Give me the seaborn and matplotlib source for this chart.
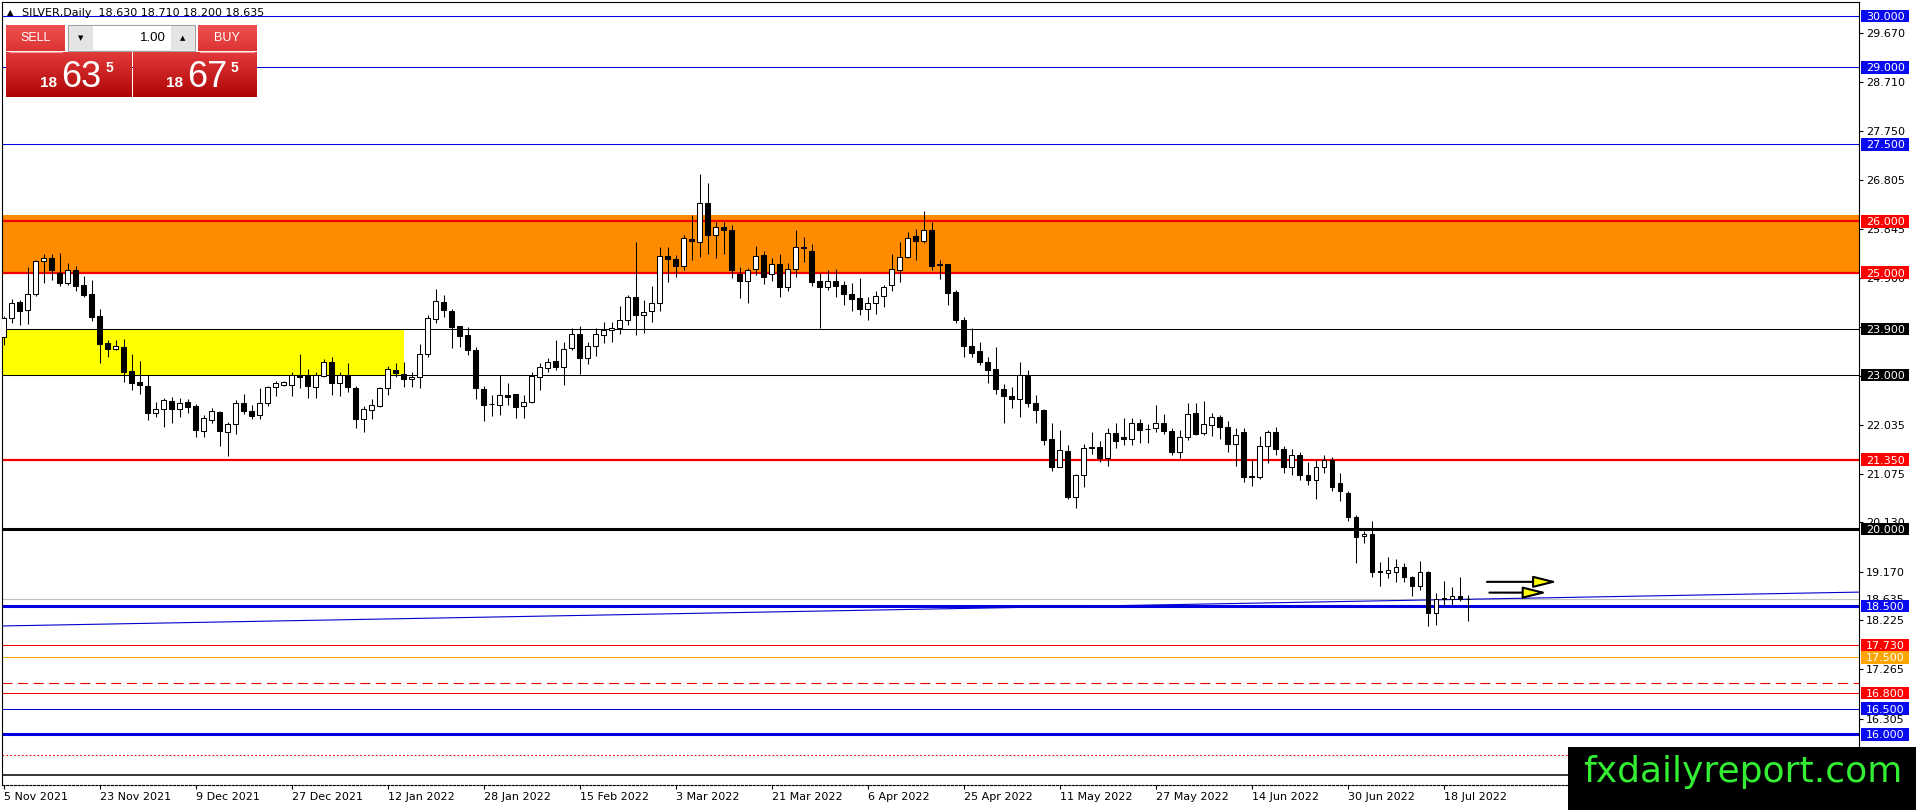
import numpy as np
import pandas as pd
import seaborn as sns
import matplotlib.pyplot as plt
import matplotlib.transforms as mtransforms
from matplotlib.patches import Rectangle
from matplotlib.colors import LinearSegmentedColormap

W, H = 1916, 810

# daily SILVER candles, bar 0 = 5 Nov 2021, last bar = 21 Jul 2022
open_px = [
    23.75, 24.11, 24.43, 24.26, 24.58, 25.22, 25.28, 25.00, 24.79, 25.04,
    24.76, 24.58, 24.15, 23.63, 23.51, 23.55, 23.08, 22.86, 22.79, 22.27,
    22.33, 22.49, 22.33, 22.47, 22.40, 21.92, 22.13, 22.28, 21.89, 22.05,
    22.45, 22.31, 22.23, 22.46, 22.76, 22.81, 22.81, 23.00, 22.98, 22.77,
    22.99, 23.26, 22.84, 23.00, 22.74, 22.14, 22.32, 22.40, 22.74, 23.10,
    23.03, 22.92, 22.96, 23.42, 24.09, 24.42, 24.25, 23.96, 23.78, 23.49,
    22.72, 22.44, 22.41, 22.61, 22.63, 22.39, 22.47, 22.96, 23.13, 23.27,
    23.15, 23.52, 23.80, 23.33, 23.56, 23.79, 23.87, 23.91, 24.07, 24.53,
    24.18, 24.24, 24.40, 25.33, 25.27, 25.13, 25.65, 25.60, 26.35, 25.73,
    25.88, 25.83, 24.98, 24.84, 25.06, 25.34, 24.97, 25.16, 24.72, 25.06,
    25.49, 25.42, 24.83, 24.72, 24.83, 24.75, 24.58, 24.50, 24.29, 24.41,
    24.55, 24.75, 25.05, 25.31, 25.71, 25.62, 25.83, 25.16, 25.16, 24.62,
    24.07, 23.57, 23.47, 23.25, 23.11, 22.73, 22.59, 22.53, 22.98, 22.46,
    22.32, 21.75, 21.21, 21.52, 20.63, 21.06, 21.60, 21.59, 21.38, 21.88,
    21.80, 21.75, 22.06, 21.95, 21.96, 22.06, 21.92, 21.51, 21.79, 22.27,
    21.88, 22.03, 22.18, 21.99, 21.65, 21.89, 21.04, 21.01, 21.62, 21.90,
    21.55, 21.20, 21.45, 21.05, 20.95, 21.20, 21.35, 20.90, 20.70, 20.23,
    19.86, 19.91, 19.18, 19.15, 19.17, 19.25, 19.07, 18.88, 19.16, 18.37,
    18.65, 18.64, 18.70, 18.63,
]
high_px = [
    24.15, 24.48, 24.46, 25.11, 25.24, 25.36, 25.37, 25.39, 25.18, 25.13,
    24.93, 24.85, 24.28, 23.68, 23.68, 23.70, 23.41, 23.27, 23.00, 22.48,
    22.55, 22.58, 22.55, 22.53, 22.44, 22.22, 22.35, 22.31, 22.09, 22.51,
    22.64, 22.42, 22.74, 22.79, 22.89, 22.89, 23.07, 23.41, 23.11, 23.07,
    23.31, 23.36, 23.07, 23.23, 22.79, 22.40, 22.53, 22.77, 23.18, 23.23,
    23.26, 23.07, 23.60, 24.17, 24.67, 24.56, 24.28, 23.96, 23.94, 23.55,
    22.79, 22.61, 23.01, 22.84, 22.64, 22.61, 23.07, 23.23, 23.33, 23.69,
    23.65, 23.91, 23.96, 23.65, 23.91, 24.04, 24.04, 24.35, 24.56, 25.60,
    24.46, 24.74, 25.50, 25.49, 25.34, 25.73, 26.12, 26.92, 26.75, 25.99,
    25.99, 25.93, 25.10, 25.08, 25.52, 25.41, 25.28, 25.36, 25.19, 25.83,
    25.70, 25.56, 25.00, 25.05, 25.06, 24.84, 24.80, 24.90, 24.53, 24.63,
    24.76, 25.36, 25.59, 25.79, 25.84, 26.20, 25.98, 25.24, 25.16, 24.65,
    24.14, 23.91, 23.65, 23.36, 23.55, 22.82, 22.77, 23.26, 23.10, 22.61,
    22.33, 22.07, 21.93, 21.64, 21.08, 21.66, 21.90, 21.71, 21.97, 22.06,
    22.17, 22.16, 22.14, 22.05, 22.42, 22.25, 21.96, 21.93, 22.45, 22.46,
    22.50, 22.27, 22.22, 22.11, 21.96, 21.96, 21.34, 21.81, 21.93, 21.98,
    21.62, 21.55, 21.50, 21.30, 21.35, 21.45, 21.40, 21.10, 20.75, 20.27,
    19.97, 20.16, 19.36, 19.45, 19.41, 19.34, 19.08, 19.38, 19.18, 18.75,
    18.99, 18.86, 19.06, 18.71,
]
low_px = [
    23.59, 24.01, 23.98, 24.00, 24.54, 24.80, 24.85, 24.74, 24.76, 24.63,
    24.52, 24.06, 23.23, 23.36, 23.48, 22.87, 22.70, 22.64, 22.12, 22.18,
    21.99, 22.07, 22.19, 22.27, 21.80, 21.79, 22.07, 21.62, 21.42, 21.86,
    22.25, 22.14, 22.14, 22.39, 22.59, 22.79, 22.59, 22.74, 22.55, 22.55,
    22.97, 22.61, 22.59, 22.68, 21.96, 21.90, 22.14, 22.38, 22.61, 22.96,
    22.77, 22.77, 22.74, 23.35, 24.02, 24.14, 23.52, 23.55, 23.39, 22.53,
    22.11, 22.20, 22.22, 22.42, 22.16, 22.16, 22.45, 22.71, 23.07, 23.10,
    22.81, 23.49, 23.02, 23.22, 23.37, 23.63, 23.65, 23.81, 23.98, 23.79,
    23.83, 24.04, 24.24, 24.82, 24.92, 25.05, 25.24, 25.31, 25.36, 25.28,
    25.36, 24.89, 24.50, 24.41, 24.95, 24.78, 24.84, 24.53, 24.63, 24.92,
    25.21, 24.74, 23.91, 24.66, 24.53, 24.37, 24.24, 24.17, 24.07, 24.19,
    24.33, 24.63, 24.82, 25.28, 25.24, 25.57, 25.05, 24.87, 24.37, 24.01,
    23.36, 23.36, 23.20, 22.85, 22.63, 22.07, 22.35, 22.18, 22.37, 22.06,
    21.64, 21.14, 21.20, 20.58, 20.40, 20.81, 21.47, 21.31, 21.23, 21.57,
    21.64, 21.64, 21.68, 21.68, 21.90, 21.86, 21.44, 21.39, 21.73, 21.83,
    21.83, 21.81, 21.75, 21.51, 21.23, 20.92, 20.84, 20.97, 21.29, 21.45,
    21.10, 21.05, 20.95, 20.85, 20.58, 21.10, 20.75, 20.55, 20.16, 19.33,
    19.72, 19.06, 18.88, 19.05, 18.97, 18.97, 18.69, 18.82, 18.10, 18.13,
    18.50, 18.52, 18.60, 18.20,
]
close_px = [
    24.12, 24.41, 24.25, 24.59, 25.22, 25.28, 25.04, 24.79, 25.04, 24.74,
    24.56, 24.14, 23.60, 23.51, 23.56, 23.07, 22.85, 22.80, 22.27, 22.33,
    22.51, 22.33, 22.45, 22.38, 21.93, 22.16, 22.31, 21.91, 22.05, 22.45,
    22.31, 22.20, 22.46, 22.76, 22.84, 22.87, 23.00, 22.97, 22.79, 23.00,
    23.26, 22.85, 23.01, 22.76, 22.14, 22.33, 22.42, 22.74, 23.11, 23.05,
    22.92, 22.96, 23.42, 24.11, 24.44, 24.26, 23.94, 23.77, 23.48, 22.74,
    22.42, 22.43, 22.61, 22.58, 22.38, 22.47, 22.98, 23.15, 23.26, 23.16,
    23.50, 23.81, 23.33, 23.57, 23.80, 23.88, 23.91, 24.07, 24.53, 24.18,
    24.23, 24.40, 25.33, 25.26, 25.13, 25.67, 25.62, 26.35, 25.73, 25.88,
    25.82, 25.05, 24.84, 25.05, 25.33, 24.92, 25.16, 24.72, 25.06, 25.49,
    25.47, 24.82, 24.72, 24.83, 24.74, 24.58, 24.49, 24.28, 24.41, 24.55,
    24.72, 25.06, 25.31, 25.68, 25.62, 25.82, 25.13, 25.14, 24.61, 24.07,
    23.57, 23.44, 23.25, 23.10, 22.73, 22.59, 22.53, 23.00, 22.46, 22.32,
    21.73, 21.21, 21.54, 20.63, 21.06, 21.57, 21.57, 21.38, 21.88, 21.72,
    21.75, 22.06, 21.93, 21.94, 22.06, 21.92, 21.51, 21.79, 22.25, 21.86,
    22.05, 22.19, 21.99, 21.65, 21.84, 21.02, 21.01, 21.62, 21.90, 21.55,
    21.20, 21.45, 21.05, 20.95, 21.20, 21.35, 20.82, 20.75, 20.23, 19.84,
    19.91, 19.17, 19.16, 19.20, 19.25, 19.06, 18.88, 19.16, 18.36, 18.64,
    18.63, 18.70, 18.63, 18.635,
]

date_ticks = [0, 12, 24, 36, 48, 60, 72, 84, 96, 108, 120, 132, 144, 156, 168, 180]
date_labels = ["5 Nov 2021", "23 Nov 2021", "9 Dec 2021", "27 Dec 2021",
               "12 Jan 2022", "28 Jan 2022", "15 Feb 2022", "3 Mar 2022",
               "21 Mar 2022", "6 Apr 2022", "25 Apr 2022", "11 May 2022",
               "27 May 2022", "14 Jun 2022", "30 Jun 2022", "18 Jul 2022"]
price_ticks = [29.670, 28.710, 27.750, 26.805, 25.845, 24.900, 23.940, 22.980,
               22.035, 21.075, 20.130, 19.170, 18.225, 17.265, 16.305]

# horizontal levels with a price label on the axis
level_px = [30.0, 29.0, 27.5, 26.0, 25.0, 23.9, 23.0, 21.35, 20.0, 18.5,
            17.73, 17.5, 16.8, 16.5, 16.0]
zone_orange = [25.0, 26.13]
zone_yellow = [23.0, 23.9]
zone_yellow_end = 50
trend_bars = [-0.2, 231.9]
trend_px = [18.11, 18.77]
bid_px = 18.635
arrow_from = [185.4, 185.7]
arrow_to = [194.2, 192.9]
arrow_px = [18.97, 18.76]

BLUE = "#0000E0"
RED = "#F00000"
level_style = {
    30.0: (BLUE, 0.75), 29.0: (BLUE, 0.75), 27.5: (BLUE, 0.75),
    26.0: (RED, 1.6), 25.0: (RED, 1.6),
    23.9: ("black", 0.75), 23.0: ("black", 0.75),
    21.35: (RED, 1.6), 20.0: ("black", 2.2), 18.5: (BLUE, 2.2),
    17.73: (RED, 0.75), 17.5: ("#FFA500", 0.75), 16.8: (RED, 0.75),
    16.5: (BLUE, 0.75), 16.0: (BLUE, 2.2),
}

df = pd.DataFrame({"open": open_px, "high": high_px, "low": low_px, "close": close_px})
df["bar"] = np.arange(len(df))
df["bull"] = df["close"] >= df["open"]

sns.set_theme(style="white")
plt.rcParams["font.family"] = ["DejaVu Sans"]

fig = plt.figure(figsize=(W / 100, H / 100), dpi=100)
fig.patch.set_facecolor("white")
ax = fig.add_axes([2 / W, 25 / H, 1857 / W, 783 / H])
ax.set_facecolor("white")
ax.set_xlim(-0.2, 231.9)
ax.set_ylim(15.01, 30.273)

# zones
ax.axhspan(zone_orange[0], zone_orange[1], color="#FF8C00", lw=0, zorder=0.5)
ax.add_patch(Rectangle((-0.5, zone_yellow[0]), zone_yellow_end + 0.5,
                       zone_yellow[1] - zone_yellow[0], color="#FFFF00", lw=0, zorder=0.5))

# lines
for p in level_px:
    c, w = level_style[p]
    ax.axhline(p, color=c, lw=w, zorder=1.5)
ax.axhline(17.0, color=RED, lw=0.8, dashes=(9, 5), zorder=1.5)
ax.axhline(15.59, color=RED, lw=0.8, dashes=(1.5, 2), zorder=1.5)
ax.axhline(15.2, color="black", lw=1.1, zorder=1.5)
ax.axhline(bid_px, color="#C0C0C0", lw=0.8, zorder=1.4)
ax.plot(trend_bars, trend_px, color="#0000CD", lw=0.8, zorder=1.6)

# candles
ax.vlines(df["bar"], df["low"], df["high"], color="black", lw=0.75, zorder=3)
body = (df["close"] - df["open"]).abs().clip(lower=0.012)
ax.bar(df["bar"], body, bottom=df[["open", "close"]].min(axis=1), width=0.56,
       color=np.where(df["bull"], "white", "black"), edgecolor="black",
       linewidth=0.75, zorder=4)

# arrows
for x0, x1, p in zip(arrow_from, arrow_to, arrow_px):
    ax.annotate("", xy=(x1, p), xytext=(x0, p),
                arrowprops=dict(arrowstyle="-|>,head_length=1.2,head_width=0.3",
                                fc="#FFFF00", ec="black", lw=1.5, shrinkA=0, shrinkB=0),
                zorder=5)

# axes styling
for s in ax.spines.values():
    s.set_color("black")
    s.set_linewidth(0.8)
ax.spines["bottom"].set_linestyle((0, (2, 1.5)))
ax.yaxis.tick_right()
ax.set_yticks(price_ticks)
ax.set_yticklabels([f"{v:.3f}" for v in price_ticks])
ax.set_xticks(date_ticks)
ax.set_xticklabels(date_labels)
for lbl in ax.get_xticklabels():
    lbl.set_ha("left")
ax.tick_params(axis="y", which="both", right=True, left=False, direction="out",
               length=3, width=0.8, pad=2, labelsize=8, colors="black")
ax.tick_params(axis="x", which="both", bottom=True, direction="out",
               length=3, width=0.8, pad=2, labelsize=8, colors="black")
ax.grid(False)

# price labels on the right axis
blend = mtransforms.blended_transform_factory(ax.transAxes, ax.transData)
bx0 = 2 / 1857
bx1 = 50 / 1857
half = 6.3 / 51.3
ax.text(1 + 7 / 1857, bid_px, f"{bid_px:.3f}", transform=blend, fontsize=8,
        color="black", va="center_baseline", ha="left", zorder=8, clip_on=False)
lab_bg = {BLUE: "#0A0AF0", RED: "#FF0000", "black": "black", "#FFA500": "#FFA500"}
for p in level_px:
    c = lab_bg[level_style[p][0]]
    ax.add_patch(Rectangle((1 + bx0, p - half), bx1 - bx0, 2 * half, transform=blend,
                           fc=c, ec="none", zorder=9, clip_on=False))
    ax.text(1 + 7 / 1857, p, f"{p:.3f}", transform=blend, fontsize=8, color="white",
            va="center_baseline", ha="left", zorder=10, clip_on=False)


# ---- trading panel and title (figure pixel coords, y from top) ----
def fx(x):
    return x / W


def fy(y):
    return 1 - y / H


def red_box(x0, y0, x1, y1, top, bottom):
    a = fig.add_axes([fx(x0), fy(y1), (x1 - x0) / W, (y1 - y0) / H])
    cmap = LinearSegmentedColormap.from_list("g", [top, bottom])
    a.imshow(np.linspace(0, 1, 64).reshape(-1, 1), aspect="auto", cmap=cmap)
    a.set_axis_off()


def box(x0, y0, x1, y1, fc, ec="none", lw=0.8, z=1):
    fig.add_artist(Rectangle((fx(x0), fy(y1)), (x1 - x0) / W, (y1 - y0) / H,
                             transform=fig.transFigure, fc=fc, ec=ec, lw=lw, zorder=z))


fig.text(fx(7), fy(13), "\u25B2", fontsize=6, color="black", va="center")
fig.text(fx(22), fy(13), "SILVER,Daily  18.630 18.710 18.200 18.635",
         fontsize=8, color="black", va="center")

red_box(6, 25, 65, 51, "#EE5050", "#DC3434")
red_box(198, 25, 257, 51, "#EE5050", "#DC3434")
red_box(6, 52, 131, 97, "#E23A3A", "#AE0606")
red_box(133, 52, 257, 97, "#E23A3A", "#AE0606")
fig.add_artist(plt.Line2D([fx(10), fx(62)], [fy(52), fy(52)], color="#F4A0A0", lw=0.8,
                          transform=fig.transFigure))
fig.add_artist(plt.Line2D([fx(200), fx(254)], [fy(52), fy(52)], color="#F4A0A0", lw=0.8,
                          transform=fig.transFigure))
box(68, 25, 195, 51, "#F0F0F0", "#A0A0A0")
box(69, 26, 93, 50, "#E4E4E4")
box(171, 26, 194, 50, "#E4E4E4")
box(93, 26, 171, 50, "white")
fig.text(fx(80.5), fy(38), "\u25BC", fontsize=5, ha="center", va="center", color="black")
fig.text(fx(182.5), fy(38), "\u25B2", fontsize=5, ha="center", va="center", color="black")
fig.text(fx(166), fy(38), "1.00", fontsize=9.5, ha="right", va="center", color="black",
         family="Liberation Sans")
fig.text(fx(36), fy(38), "SELL", fontsize=9, ha="center", va="center", color="white",
         family="Liberation Sans")
fig.text(fx(227), fy(38), "BUY", fontsize=9, ha="center", va="center", color="white",
         family="Liberation Sans")
for x18, xbig, x5, big in [(40, 61, 106, "63"), (166, 187, 231, "67")]:
    fig.text(fx(x18), fy(87), "18", fontsize=11, color="white", va="baseline",
             family="Liberation Sans", weight="bold")
    fig.text(fx(xbig), fy(87), big, fontsize=26, color="white", va="baseline",
             family="Liberation Sans")
    fig.text(fx(x5), fy(72), "5", fontsize=10, color="white", va="baseline",
             family="Liberation Sans", weight="bold")

# watermark
box(1568, 747, 1916, 810, "black", z=2)
fig.text(fx(1583), fy(782), "fxdailyreport.com", fontsize=26, color="#33EE33",
         va="baseline", ha="left", zorder=4)

fig.savefig("out.png", dpi=100)
